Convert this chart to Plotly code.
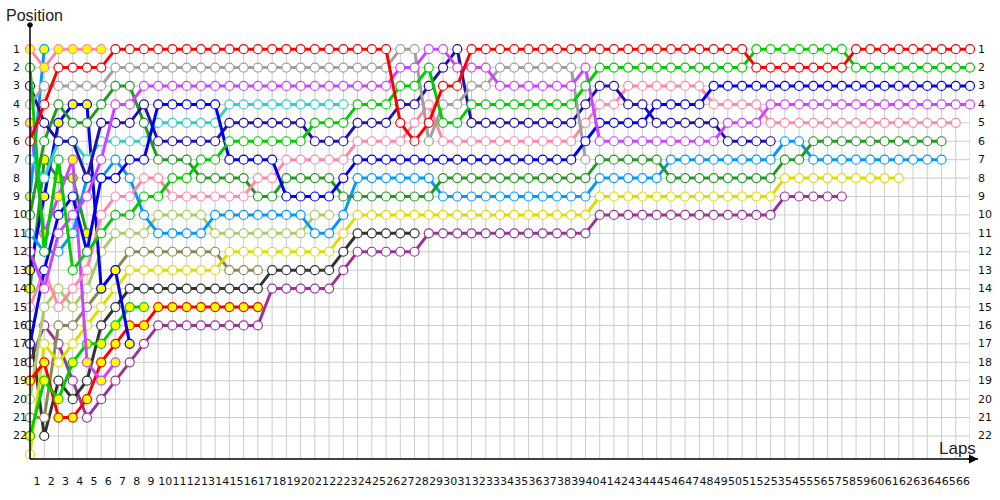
import plotly.graph_objects as go

# ---------------- data (position per lap, index = lap number, lap 0 = grid) ----------------
lap_labels = [str(i) for i in range(1, 67)]
pos_labels = [str(i) for i in range(1, 23)]

RED = [6,4,2,2,2,2,1,1,1,1,
       1,1,1,1,1,1,1,1,1,1,
       1,1,1,1,1,1,5,6,5,3,
       3,1,1,1,1,1,1,1,1,1,
       1,1,1,1,1,1,1,1,1,1,
       1,2,2,2,2,2,2,2,1,1,
       1,1,1,1,1,1,1]
GREEN = [2,12,7,13,12,11,10,10,9,9,
         8,8,7,7,6,6,6,6,6,6,
         5,5,5,4,4,4,3,3,2,5,
         5,4,4,4,4,4,4,4,4,3,
         2,2,2,2,2,2,2,2,2,2,
         2,1,1,1,1,1,1,1,2,2,
         2,2,2,2,2,2,2]
GREY = [4,3,3,3,3,3,2,2,2,2,
        2,2,2,2,2,2,2,2,2,2,
        2,2,2,2,2,2,1,1,6,4,
        4,3,3,2,2,2,2,2,2,7]
PURPLE = [12,14,11,10,9,7,4,4,3,3,
          3,3,3,3,3,3,3,3,3,3,
          3,3,3,3,3,3,2,2,1,1,
          2,2,2,3,3,3,3,3,3,2,
          6,6,6,6,6,6,6,6,6,5,
          5,5,4,4,4,4,4,4,4,4,
          4,4,4,4,4,4,4]
NAVY = [3,5,6,6,8,5,5,5,4,6,
        6,6,6,6,5,5,5,5,5,5,
        6,6,6,5,5,5,4,4,3,2,
        1,5,5,5,5,5,5,5,5,4,
        3,3,4,4,5,5,5,5,5,6,
        6,6,6]
BLUE = [17,13,10,9,12,8,8,7,7,4,
        4,4,4,4,7,7,7,7,9,9,
        9,9,8,7,7,7,7,7,7,7,
        7,7,7,7,7,7,7,7,7,6,
        5,5,5,5,4,4,4,4,3,3,
        3,3,3,3,3,3,3,3,3,3,
        3,3,3,3,3,3,3]
CYAN = [7,8,6,6,7,6,6,6,6,5,
        5,5,5,5,4,4,4,4,4,4,
        4,4,4]
DKGREEN = [10,6,4,5,5,4,3,3,5,7,
           7,7,8,8,8,8,9,9,8,8,
           8,8,9,9,9,9,9,9,9,8,
           8,8,8,8,8,8,8,8,8,8,
           7,7,7,7,7,8,8,8,8,8,
           8,8,8,7,7,6,6,6,6,6,
           6,6,6,6,6]
PINK = [15,13,15,14,13,10,9,9,8,8,
        9,9,9,9,9,9,8,8,7,7,
        7,7,7,6,6,6,6,5,4,6,
        6,6,6,6,6,6,6,6,6,5,
        4,4,3,3,3,3,3,3,4,4,
        4,4,5,5,5,5,5,5,5,5,
        5,5,5,5,5,5]
SKY = [11,12,12,11,8,8,7,8,10,11,
       11,11,11,10,10,10,10,10,10,10,
       11,11,10,8,8,8,8,8,8,9,
       9,9,9,9,9,9,9,9,9,9,
       8,8,8,8,8,7,7,7,7,7,
       7,7,7,6,6,7,7,7,7,7,
       7,7,7,7,7]
LIME = [20,15,14,15,14,12,11,11,11,10,
        10,10,10,11,11,11,11,11,11,11,
        10,10]
OLIVE = [21,21,16,16,15,14,13,12,12,12,
         12,12,12,12,13,13,13]
YELLOW = [23,17,18,17,16,15,14,13,13,13,
          13,13,13,13,12,12,12,12,12,12,
          12,12,11,10,10,10,10,10,10,10,
          10,10,10,10,10,10,10,10,10,10,
          9,9,9,9,9,9,9,9,9,9,
          9,9,9,8,8,8,8,8,8,8,
          8,8]
BLACK = [16,22,19,20,19,16,15,14,14,14,
         14,14,14,14,14,14,14,13,13,13,
         13,13,12,11,11,11,11,11]
PLUM = [18,16,17,19,21,20,19,18,17,16,
        16,16,16,16,16,16,16,14,14,14,
        14,14,13,12,12,12,12,12,11,11,
        11,11,11,11,11,11,11,11,11,11,
        10,10,10,10,10,10,10,10,10,10,
        10,10,10,9,9,9,9,9]
RED_Y = [19,18,21,21,20,18,17,16,16,15,15,15,15,15,15,15,15]
GREEN_Y = [22,19,20,18,17,17,16,15,15]
PINK_Y = [1,2,1,1,1,1]
SKY_Y = [9,1]
PURPLE_Y = [5,11,9,7,18,19,18]
BLUE_Y = [13,9,5,4,4,14,13,17]
DKGREEN_Y = [14,7,8,8,11]

# (series, line colour, marker fill)
drivers = [
    (PLUM, "#993399", "white"),
    (BLACK, "#333333", "white"),
    (OLIVE, "#888855", "white"),
    (LIME, "#aacc66", "white"),
    (YELLOW, "#dddd00", "white"),
    (RED_Y, "#ff0000", "#ffff00"),
    (GREEN_Y, "#00cc00", "#ffff00"),
    (DKGREEN_Y, "#229922", "#ffff00"),
    (BLUE_Y, "#0000ee", "#ffff00"),
    (PURPLE_Y, "#cc44ff", "#ffff00"),
    (SKY_Y, "#0099ff", "#ffff00"),
    (CYAN, "#33cccc", "white"),
    (SKY, "#0099ff", "white"),
    (DKGREEN, "#229922", "white"),
    (PINK, "#ff88aa", "white"),
    (NAVY, "#2211aa", "white"),
    (GREY, "#a0a0a0", "white"),
    (BLUE, "#0000ee", "white"),
    (PURPLE, "#cc44ff", "white"),
    (GREEN, "#00cc00", "white"),
    (PINK_Y, "#ff88aa", "#ffff00"),
    (RED, "#ff0000", "white"),
]

fig = go.Figure()
for series, col, fill in drivers:
    fig.add_trace(go.Scatter(
        x=list(range(len(series))), y=series, mode="lines+markers",
        line=dict(color=col, width=3),
        marker=dict(size=9, color=fill, line=dict(color=col, width=1.2)),
        cliponaxis=False, hoverinfo="skip", showlegend=False))

NL = len(lap_labels)
NP = len(pos_labels)
YBOT = 23.25
YTOP = -0.31

shapes = []
for k in range(1, NL + 1):
    shapes.append(dict(type="line", xref="x", yref="y", x0=k, x1=k, y0=1, y1=YBOT,
                       line=dict(color="#cccccc", width=1), layer="below"))
for p in range(1, NP + 1):
    shapes.append(dict(type="line", xref="x", yref="y", x0=0, x1=NL, y0=p, y1=p,
                       line=dict(color="#cccccc", width=1), layer="below"))
# axes
shapes.append(dict(type="line", xref="paper", yref="paper", x0=0, x1=1.0085, y0=0, y1=0,
                   line=dict(color="black", width=1.5)))
shapes.append(dict(type="line", xref="paper", yref="paper", x0=0, x1=0, y0=0, y1=1,
                   line=dict(color="black", width=1.5)))
shapes.append(dict(type="circle", xref="paper", yref="paper", x0=-0.0025, x1=0.0025,
                   y0=0.995, y1=1.005, fillcolor="black", line=dict(color="black", width=1)))

ann = []
for i, t in enumerate(pos_labels):
    p = i + 1
    ann.append(dict(x=-0.0205, y=p, xref="paper", yref="y", text=t, showarrow=False,
                    xanchor="left", font=dict(size=11, color="#111", family="DejaVu Sans")))
    ann.append(dict(x=1.0065, y=p, xref="paper", yref="y", text=t, showarrow=False,
                    xanchor="left", font=dict(size=11, color="#111", family="DejaVu Sans")))
ann.append(dict(x=1.0085, y=0, xref="paper", yref="paper", ax=-12, ay=0, text="",
                showarrow=True, arrowhead=2, arrowsize=1.2, arrowwidth=1.5, arrowcolor="black"))
ann.append(dict(x=-0.028, y=1.021, xref="paper", yref="paper", text="Position", showarrow=False,
                xanchor="left", yanchor="middle", font=dict(size=16, color="#222", family="Liberation Sans")))
ann.append(dict(x=0.987, y=0.025, xref="paper", yref="paper", text="Laps", showarrow=False,
                xanchor="center", yanchor="middle", font=dict(size=17, color="#222", family="Liberation Sans")))

fig.update_layout(
    width=1000, height=500, margin=dict(l=30, r=30, t=25, b=25),
    paper_bgcolor="white", plot_bgcolor="white",
    shapes=shapes, annotations=ann,
    xaxis=dict(range=[0, NL], showgrid=False, zeroline=False, showline=False,
               tickmode="array", tickvals=[k - 0.5 for k in range(1, NL + 1)], ticktext=lap_labels,
               ticks="", tickangle=0, ticklabelstandoff=14,
               tickfont=dict(size=11, color="#111", family="DejaVu Sans")),
    yaxis=dict(range=[YBOT, YTOP], showgrid=False, zeroline=False, showline=False,
               showticklabels=False, ticks=""),
)
fig.write_html("out.html", config={"displayModeBar": False},
               post_script="document.body.style.margin='0px';")
